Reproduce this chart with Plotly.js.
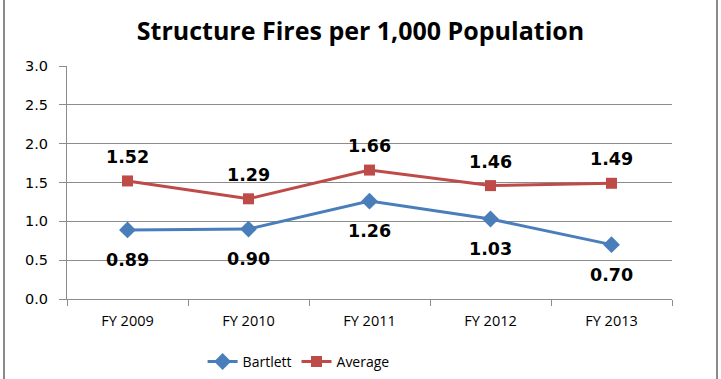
<!DOCTYPE html>
<html>
<head>
<meta charset="utf-8">
<script src="https://cdn.plot.ly/plotly-3.0.1.min.js"></script>
<style>
  html, body { margin: 0; padding: 0; background: #fff; }
  #wrap { position: relative; width: 721px; height: 379px; }
  #chart { width: 721px; height: 379px; }
  #frame { position: absolute; left: 3px; top: -2px; width: 711px; height: 383px;
           border-left: 2px solid #8a8a8a; border-right: 2px solid #8a8a8a; pointer-events: none; }
</style>
</head>
<body>
<div id="wrap">
  <div id="chart"></div>
  <div id="frame"></div>
</div>
<script>
const categories = ["FY 2009", "FY 2010", "FY 2011", "FY 2012", "FY 2013"];
const bartlett = [0.89, 0.90, 1.26, 1.03, 0.70];
const average = [1.52, 1.29, 1.66, 1.46, 1.49];
const yTicks = [0, 0.5, 1.0, 1.5, 2.0, 2.5, 3.0];

const blue = "#4A7EBB";
const red = "#BE4B48";
const labelFont = { family: "DejaVu Sans, Verdana, sans-serif", size: 17.5, color: "#000", weight: "bold" };

const traces = [
  { x: categories, y: bartlett, name: "Bartlett", type: "scatter", mode: "lines+markers",
    line: { color: blue, width: 3 }, marker: { symbol: "diamond", size: 13, color: blue } },
  { x: categories, y: average, name: "Average", type: "scatter", mode: "lines+markers",
    line: { color: red, width: 3 }, marker: { symbol: "square", size: 11, color: red } }
];

const annotations = [];
categories.forEach((c, i) => {
  annotations.push({ x: c, y: average[i], text: average[i].toFixed(2), showarrow: false,
    yshift: 24, font: labelFont, xref: "x", yref: "y" });
  annotations.push({ x: c, y: bartlett[i], text: bartlett[i].toFixed(2), showarrow: false,
    yshift: -30, font: labelFont, xref: "x", yref: "y" });
});

const layout = {
  width: 721, height: 379,
  margin: { l: 67, r: 49, t: 66, b: 80 },
  paper_bgcolor: "#fff", plot_bgcolor: "#fff",
  showlegend: true,
  title: { text: "Structure Fires per 1,000 Population",
           font: { family: "Open Sans, sans-serif", size: 25, color: "#000", weight: "bold" },
           x: 0.5, xanchor: "center", y: 0.918, yanchor: "middle" },
  xaxis: { type: "category", range: [-0.5, 4.5], showgrid: false, showline: true, linecolor: "#8c8c8c", linewidth: 1,
           ticks: "outside", tickson: "boundaries", ticklen: 6, tickcolor: "#8c8c8c", automargin: false,
           ticklabelstandoff: 9,
           tickfont: { family: "Open Sans, sans-serif", size: 14.5, color: "#000" }, zeroline: false },
  yaxis: { range: [0, 3], tickvals: yTicks, ticktext: yTicks.map(v => v.toFixed(1)), automargin: false,
           showgrid: true, gridcolor: "#8c8c8c", gridwidth: 1, showline: true, linecolor: "#8c8c8c",
           ticks: "outside", ticklen: 7, tickcolor: "#8c8c8c", ticklabelstandoff: 8,
           tickfont: { family: "DejaVu Sans, Verdana, sans-serif", size: 14.5, color: "#000" }, zeroline: false },
  legend: { orientation: "h", xref: "container", yref: "container", x: 0.281, xanchor: "left", y: 0.045, yanchor: "middle",
            font: { family: "Open Sans, sans-serif", size: 14, color: "#000" }, itemwidth: 30, tracegroupgap: 0 },
  annotations: annotations
};

Plotly.newPlot("chart", traces, layout, { displayModeBar: false, staticPlot: true });
</script>
</body>
</html>
